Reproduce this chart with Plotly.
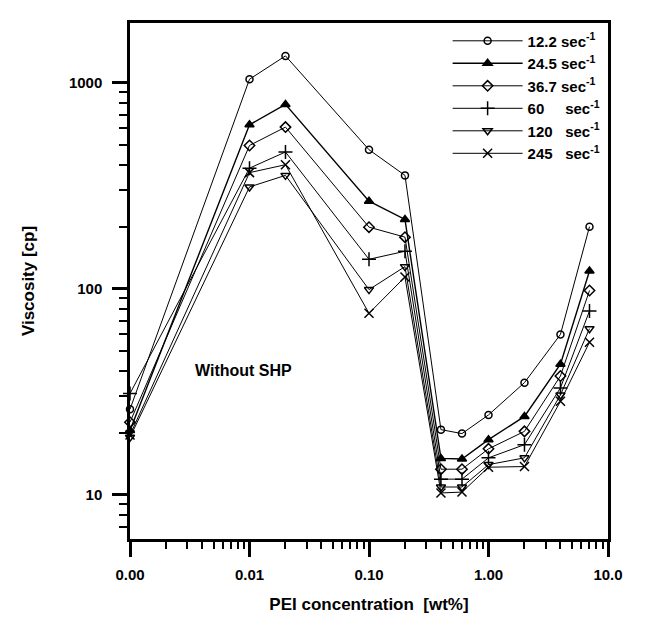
import plotly.graph_objects as go

# PEI concentration [wt%]; 0 is drawn at the left edge of the broken log axis (0.001 position)
conc = [0, 0.01, 0.02, 0.1, 0.2, 0.4, 0.6, 1.0, 2.0, 4.0, 7.0]

series_names = ["12.2 sec<sup>-1</sup>", "24.5 sec<sup>-1</sup>", "36.7 sec<sup>-1</sup>",
                "60\u00a0\u00a0\u00a0\u00a0 sec<sup>-1</sup>", "120\u00a0\u00a0 sec<sup>-1</sup>",
                "245\u00a0\u00a0 sec<sup>-1</sup>"]

visc_12_2 = [26, 1040, 1350, 473, 355, 20.7, 19.8, 24.4, 35, 60, 200]
visc_24_5 = [20.5, 625, 785, 266, 217, 15.0, 14.9, 18.5, 24, 43, 122]
visc_36_7 = [22.5, 496, 609, 199, 178, 13.3, 13.3, 16.7, 20.3, 37.7, 98]
visc_60 = [31, 385, 461, 139, 152, 11.9, 11.9, 15.1, 17.5, 33, 78]
visc_120 = [19, 312, 355, 99, 128, 10.9, 10.9, 14.0, 15.1, 30.5, 64]
visc_245 = [19.5, 366, 400, 76, 114, 10.2, 10.3, 13.6, 13.7, 28.4, 55]

x_tickvals = [0.001, 0.01, 0.1, 1, 10]
x_ticktext = ["0.00", "0.01", "0.10", "1.00", "10.0"]
y_tickvals = [10, 100, 1000]
y_ticktext = ["10", "100", "1000"]

ZERO_POS = 0.001
x_plot = [c if c > 0 else ZERO_POS for c in conc]

all_series = [visc_12_2, visc_24_5, visc_36_7, visc_60, visc_120, visc_245]
symbols = ["circle-open", "triangle-up", "diamond-open", "cross-thin-open",
           "triangle-down-open", "x-thin-open"]
sizes = [7, 8, 8, 10, 8, 9]
lwidths = [1, 1.4, 1, 1, 1, 1]

fig = go.Figure()
for name, vals, sym, sz, lw in zip(series_names, all_series, symbols, sizes, lwidths):
    fig.add_trace(go.Scatter(
        x=x_plot, y=vals, name=name, mode="lines+markers",
        line=dict(color="black", width=lw),
        marker=dict(symbol=sym, size=sz, color="black",
                    line=dict(color="black", width=1.5)),
        cliponaxis=False,
    ))

minor_x = [m * 10 ** e for e in range(-3, 1) for m in range(2, 10)]
minor_y = [m * 10 ** e for e in range(0, 4) for m in range(2, 10)]

font_family = "Liberation Sans, Arial, sans-serif"

fig.update_layout(
    width=670, height=619,
    margin=dict(l=122, r=70, t=13, b=88),
    paper_bgcolor="white", plot_bgcolor="white",
    font=dict(family=font_family, color="black"),
    showlegend=True,
    legend=dict(x=0.995, y=0.997, xanchor="right", yanchor="top",
                bgcolor="rgba(255,255,255,0)", borderwidth=0,
                font=dict(size=15, family=font_family, weight="bold"),
                tracegroupgap=0, itemwidth=70),
    xaxis=dict(
        type="log", range=[-3, 1],
        tickmode="array", tickvals=x_tickvals, ticktext=x_ticktext,
        ticks="outside", ticklen=15, tickwidth=2.5, tickcolor="black",
        ticklabelstandoff=5,
        tickfont=dict(size=15, family=font_family, weight="bold"),
        showline=True, linewidth=2.5, linecolor="black", mirror=True,
        showgrid=False, zeroline=False,
        minor=dict(tickmode="array", tickvals=minor_x, ticks="outside",
                   ticklen=7, tickwidth=2, tickcolor="black", showgrid=False),
        title=dict(text="PEI concentration  [wt%]", standoff=17,
                   font=dict(size=17, family=font_family, weight="bold")),
    ),
    yaxis=dict(
        type="log", range=[0.785, 3.29],
        tickmode="array", tickvals=y_tickvals, ticktext=y_ticktext,
        ticks="outside", ticklen=15, tickwidth=2.5, tickcolor="black",
        ticklabelstandoff=7,
        tickfont=dict(size=15, family=font_family, weight="bold"),
        showline=True, linewidth=2.5, linecolor="black", mirror=True,
        showgrid=False, zeroline=False,
        minor=dict(tickmode="array", tickvals=minor_y, ticks="outside",
                   ticklen=8, tickwidth=2, tickcolor="black", showgrid=False),
        title=dict(text="Viscosity [cp]", standoff=30,
                   font=dict(size=17, family=font_family, weight="bold")),
    ),
    annotations=[dict(x=-2.05, y=1.605, xref="x", yref="y", text="Without SHP",
                      showarrow=False,
                      font=dict(size=16, family=font_family, weight="bold"))],
)

fig.write_html("out.html")
